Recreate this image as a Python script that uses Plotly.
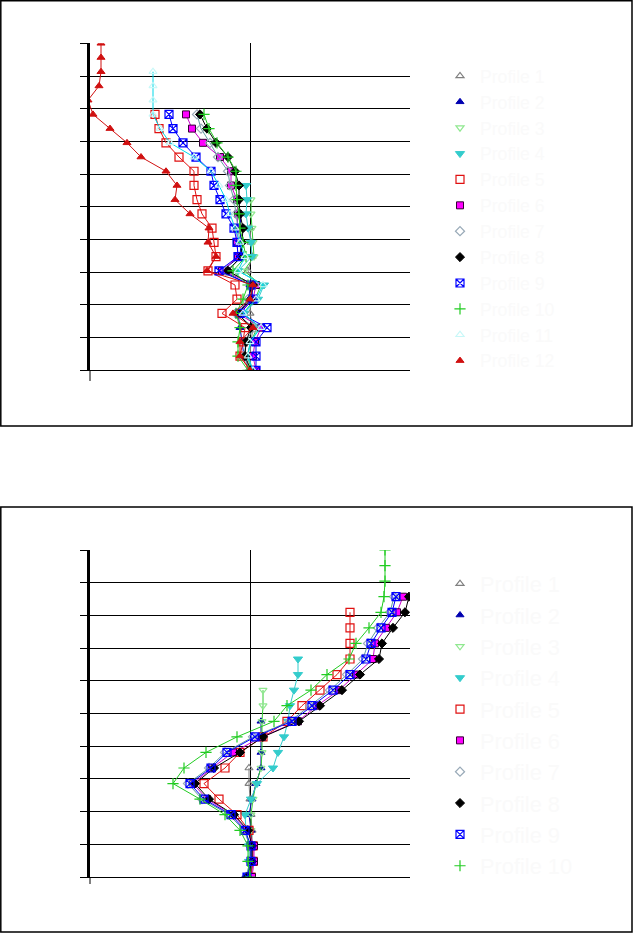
import plotly.graph_objects as go

# ---------------- data ----------------
series_names = ["Profile 1", "Profile 2", "Profile 3", "Profile 4", "Profile 5", "Profile 6",
                "Profile 7", "Profile 8", "Profile 9", "Profile 10", "Profile 11", "Profile 12"]

# Top panel: level (0 = bottom) and x value per series
top_s1_y = [0, 1, 2, 3, 4, 5, 6, 7, 8, 9, 10]
top_s1_x = [0.01, 0.00, 0.01, 0.03, 0.00, 0.01, 0.03, -0.02, 0.02, 0.01, 0.00]

top_s2_y = [0, 1, 2, 3, 4, 5, 6, 7, 8, 9, 10, 11]
top_s2_x = [0.00, -0.06, -0.08, -0.10, -0.12, -0.01, 0.00, -0.28, -0.10, -0.09, -0.10, -0.09]

top_s3_y = [0, 1, 2, 3, 4, 5, 6, 7, 8, 9, 10, 11, 12]
top_s3_x = [0.02, -0.03, 0.01, 0.07, -0.07, 0.05, 0.11, -0.06, 0.04, 0.03, 0.02, 0.01, 0.01]

top_s4_y = [0, 1, 2, 3, 4, 5, 6, 7, 8, 9, 10, 11, 12, 13]
top_s4_x = [0.03, -0.03, 0.01, 0.09, -0.06, 0.08, 0.14, -0.12, 0.02, 0.01, -0.02, -0.04, -0.03, -0.04]

top_s5_y = [0, 1, 2, 3, 4, 5, 6, 7, 8, 9, 10, 11, 12, 13, 14, 15, 16, 17, 18]
top_s5_x = [0.01, -0.10, -0.07, -0.05, -0.28, -0.13, -0.15, -0.42, -0.34, -0.36, -0.38,
            -0.48, -0.53, -0.56, -0.56, -0.71, -0.84, -0.91, -0.95]

top_s6_y = [0, 1, 2, 3, 4, 5, 6, 7, 8, 9, 10, 11, 12, 13, 14, 15, 16, 17, 18]
top_s6_x = [0.06, 0.03, 0.05, 0.11, -0.12, 0.03, 0.06, -0.28, -0.12, -0.13, -0.13,
            -0.12, -0.13, -0.19, -0.19, -0.30, -0.47, -0.58, -0.64]

top_s7_y = [0, 1, 2, 3, 4, 5, 6, 7, 8, 9, 10, 11, 12, 13, 14, 15, 16, 17, 18]
top_s7_x = [0.00, -0.06, -0.04, 0.04, -0.14, -0.02, 0.04, -0.24, -0.07, -0.10, -0.12,
            -0.14, -0.16, -0.20, -0.22, -0.32, -0.40, -0.49, -0.53]

top_s8_y = [0, 1, 2, 3, 4, 5, 6, 7, 8, 9, 10, 11, 12, 13, 14, 15, 16, 17, 18]
top_s8_x = [0.01, -0.05, -0.04, 0.01, -0.12, 0.01, 0.03, -0.22, -0.09, -0.08, -0.07,
            -0.10, -0.11, -0.11, -0.15, -0.22, -0.34, -0.43, -0.50]

top_s9_y = [0, 1, 2, 3, 4, 5, 6, 7, 8, 9, 10, 11, 12, 13, 14, 15, 16, 17, 18]
top_s9_x = [0.06, 0.06, 0.06, 0.17, -0.10, 0.03, 0.01, -0.31, -0.12, -0.13, -0.16,
            -0.24, -0.30, -0.36, -0.39, -0.54, -0.67, -0.77, -0.81]

top_s10_y = [0, 1, 2, 3, 4, 5, 6, 7, 8, 9, 10, 11, 12, 13, 14, 15, 16, 17, 18]
top_s10_x = [-0.02, -0.12, -0.12, -0.10, -0.14, -0.07, -0.02, -0.17, -0.04, -0.07, -0.10,
             -0.11, -0.13, -0.14, -0.14, -0.22, -0.33, -0.41, -0.46]

top_s11_y = [0, 1, 2, 3, 4, 5, 6, 7, 8, 9, 10, 11, 12, 13, 14, 15, 16, 17, 18, 19, 20, 21]
top_s11_x = [0.03, -0.02, 0.00, 0.11, -0.07, 0.06, 0.13, -0.12, -0.05, -0.10, -0.15,
             -0.20, -0.24, -0.31, -0.39, -0.56, -0.80, -0.90, -0.97, -0.97, -0.97, -0.97]

top_s12_y = [0, 1, 2, 3, 4, 5, 6, 7, 8, 9, 10, 11, 12, 13, 14, 15, 16, 17, 18, 19, 20, 21, 22, 23]
top_s12_x = [0.00, -0.10, -0.10, 0.03, -0.17, 0.00, 0.03, -0.43, -0.34, -0.42, -0.41,
             -0.60, -0.75, -0.73, -0.84, -1.09, -1.23, -1.40, -1.57, -1.62, -1.51,
             -1.49, -1.49, -1.49]

# Bottom panel
bot_s1_y = [0, 1, 2, 3, 4, 5, 6, 7]
bot_s1_x = [0.01, 0.02, 0.02, 0.02, 0.01, 0.00, -0.01, -0.01]

bot_s2_y = [0, 1, 2, 3, 4, 5, 6, 7, 8, 9, 10]
bot_s2_x = [0.01, 0.02, 0.02, 0.01, -0.01, 0.02, 0.06, 0.11, 0.11, 0.11, 0.11]

bot_s3_y = [0, 1, 2, 3, 4, 5, 6, 7, 8, 9, 10, 11, 12]
bot_s3_x = [0.01, 0.01, 0.01, 0.01, 0.01, 0.03, 0.06, 0.11, 0.12, 0.12, 0.12, 0.13, 0.13]

bot_s4_y = [0, 1, 2, 3, 4, 5, 6, 7, 8, 9, 10, 11, 12, 13, 14]
bot_s4_x = [-0.02, -0.01, -0.01, -0.04, -0.05, 0.01, 0.07, 0.23, 0.28, 0.34, 0.38,
            0.40, 0.44, 0.48, 0.48]

bot_s5_y = [0, 1, 2, 3, 4, 5, 6, 7, 8, 9, 10, 11, 12, 13, 14, 15, 16, 17]
bot_s5_x = [0.01, 0.03, 0.03, -0.01, -0.13, -0.31, -0.46, -0.25, -0.10, 0.13, 0.37,
            0.52, 0.70, 0.87, 1.00, 1.00, 1.00, 1.00]

bot_s6_y = [0, 1, 2, 3, 4, 5, 6, 7, 8, 9, 10, 11, 12, 13, 14, 15, 16, 17, 18]
bot_s6_x = [0.02, 0.04, 0.04, -0.03, -0.17, -0.43, -0.57, -0.38, -0.17, 0.12, 0.48,
            0.67, 0.89, 1.06, 1.23, 1.25, 1.36, 1.47, 1.53]

bot_s7_y = [0, 1, 2, 3, 4, 5, 6, 7, 8, 9, 10, 11, 12, 13, 14, 15, 16, 17, 18]
bot_s7_x = [-0.04, 0.00, 0.00, -0.06, -0.21, -0.48, -0.62, -0.41, -0.25, 0.03, 0.40,
            0.60, 0.80, 0.97, 1.13, 1.18, 1.28, 1.40, 1.44]

bot_s8_y = [0, 1, 2, 3, 4, 5, 6, 7, 8, 9, 10, 11, 12, 13, 14, 15, 16, 17, 18]
bot_s8_x = [-0.03, 0.02, 0.02, -0.02, -0.16, -0.41, -0.55, -0.36, -0.10, 0.13, 0.49,
            0.70, 0.92, 1.10, 1.29, 1.32, 1.43, 1.55, 1.59]

bot_s9_y = [0, 1, 2, 3, 4, 5, 6, 7, 8, 9, 10, 11, 12, 13, 14, 15, 16, 17, 18]
bot_s9_x = [-0.03, 0.01, 0.01, -0.05, -0.19, -0.46, -0.60, -0.39, -0.23, 0.05, 0.42,
            0.62, 0.83, 1.00, 1.16, 1.21, 1.31, 1.42, 1.46]

bot_s10_y = [0, 1, 2, 3, 4, 5, 6, 7, 8, 9, 10, 11, 12, 13, 14, 15, 16, 17, 18, 19, 20, 21]
bot_s10_x = [0.00, -0.02, -0.02, -0.10, -0.25, -0.50, -0.77, -0.66, -0.44, -0.13, 0.24,
             0.37, 0.61, 0.77, 0.99, 1.06, 1.19, 1.31, 1.34, 1.35, 1.35, 1.35]

# ---------------- styles ----------------
styles = [
    dict(symbol="triangle-up-open", color="#808080", line="#808080", size=7),
    dict(symbol="triangle-up", color="#0000b0", line="#0000b0", size=7),
    dict(symbol="triangle-down-open", color="#90e890", line="#33cc33", size=7),
    dict(symbol="triangle-down", color="#33cccc", line="#33cccc", size=8),
    dict(symbol="square-open", color="#e01010", line="#e01010", size=8),
    dict(symbol="square", color="#ff00ff", line="#cc00cc", size=7, mline="#330033"),
    dict(symbol="diamond-open", color="#99aab8", line="#5f9ea0", size=7),
    dict(symbol="diamond", color="#000000", line="#000000", size=7),
    dict(symbol="square-x-open", color="#0000ff", line="#0000ff", size=8),
    dict(symbol="cross-thin-open", color="#22cc22", line="#22cc22", size=8),
    dict(symbol="triangle-up-open", color="#c8f8f8", line="#00d8e8", size=7),
    dict(symbol="triangle-up", color="#d01010", line="#d01010", size=7),
]

top_series = [(top_s1_x, top_s1_y), (top_s2_x, top_s2_y), (top_s3_x, top_s3_y),
              (top_s4_x, top_s4_y), (top_s5_x, top_s5_y), (top_s6_x, top_s6_y),
              (top_s7_x, top_s7_y), (top_s8_x, top_s8_y), (top_s9_x, top_s9_y),
              (top_s10_x, top_s10_y), (top_s11_x, top_s11_y), (top_s12_x, top_s12_y)]
bot_series = [(bot_s1_x, bot_s1_y), (bot_s2_x, bot_s2_y), (bot_s3_x, bot_s3_y),
              (bot_s4_x, bot_s4_y), (bot_s5_x, bot_s5_y), (bot_s6_x, bot_s6_y),
              (bot_s7_x, bot_s7_y), (bot_s8_x, bot_s8_y), (bot_s9_x, bot_s9_y),
              (bot_s10_x, bot_s10_y)]

fig = go.Figure()


def marker_of(st):
    m = dict(symbol=st["symbol"], size=st["size"], color=st["color"])
    if "open" in st["symbol"]:
        m["line"] = dict(color=st["color"], width=1.2)
    else:
        m["line"] = dict(color=st.get("mline", st["color"]), width=1)
    return m


def add(xs, ys, st, name, xa, ya, leg):
    # data trace (line + markers), not shown in legend
    fig.add_trace(go.Scatter(
        x=xs, y=ys, mode="lines+markers", name=name,
        xaxis=xa, yaxis=ya, showlegend=False,
        line=dict(color=st["line"], width=1),
        marker=marker_of(st),
    ))
    # legend entry: marker only (like the original)
    fig.add_trace(go.Scatter(
        x=[None], y=[None], mode="markers", name=name,
        xaxis=xa, yaxis=ya, legend=leg, showlegend=True,
        marker=marker_of(st),
    ))


for i, (xs, ys) in enumerate(top_series):
    add(xs, ys, styles[i], series_names[i], "x", "y", "legend")
for i, (xs, ys) in enumerate(bot_series):
    add(xs, ys, styles[i], series_names[i], "x2", "y2", "legend2")

W, H = 633, 934


def px(v):
    return v / W


def py(v):
    return 1 - v / H


xdom = [px(90), px(410)]
axis_x = dict(range=[-1.6, 1.6], tick0=0, dtick=1.6, showgrid=True, gridcolor="black",
              gridwidth=1, showline=True, linecolor="black", linewidth=1,
              zeroline=False, showticklabels=False, ticks="", domain=xdom)
axis_y = dict(showgrid=True, gridcolor="black", gridwidth=1, showline=True,
              linecolor="black", linewidth=2.5, zeroline=False, showticklabels=False,
              ticks="outside", ticklen=7, tickcolor="black", tickwidth=1)

fig.update_layout(
    width=W, height=H, margin=dict(l=0, r=0, t=0, b=0),
    paper_bgcolor="white", plot_bgcolor="white",
    font=dict(family="Liberation Sans, Arial, sans-serif"),
    xaxis=dict(axis_x, anchor="y"),
    yaxis=dict(axis_y, range=[0, 23], tick0=0, dtick=2.3, anchor="x",
               domain=[py(370.3), py(43.3)]),
    xaxis2=dict(axis_x, anchor="y2"),
    yaxis2=dict(axis_y, range=[0, 21], tick0=0, dtick=2.1, anchor="x2",
                domain=[py(877), py(550)]),
    legend=dict(x=px(440), xanchor="left", y=py(58), yanchor="top",
                bgcolor="rgba(0,0,0,0)", font=dict(size=17.6, color="#fafafa"),
                itemsizing="trace"),
    legend2=dict(x=px(440), xanchor="left", y=py(563), yanchor="top",
                 bgcolor="rgba(0,0,0,0)", font=dict(size=21.8, color="#fafafa"),
                 itemsizing="trace"),
    shapes=[
        dict(type="rect", xref="paper", yref="paper", x0=px(0.8), x1=px(632),
             y0=py(426), y1=py(0.8), line=dict(color="black", width=1.5)),
        dict(type="rect", xref="paper", yref="paper", x0=px(0.8), x1=px(632),
             y0=py(932), y1=py(507), line=dict(color="black", width=1.5)),
        dict(type="line", xref="paper", yref="paper", x0=px(90), x1=px(90),
             y0=py(370), y1=py(381), line=dict(color="black", width=1)),
        dict(type="line", xref="paper", yref="paper", x0=px(90), x1=px(90),
             y0=py(877), y1=py(884), line=dict(color="black", width=1)),
    ],
)

fig.write_html("out.html", config={"displayModeBar": False},
               post_script="document.body.style.margin='0';")
